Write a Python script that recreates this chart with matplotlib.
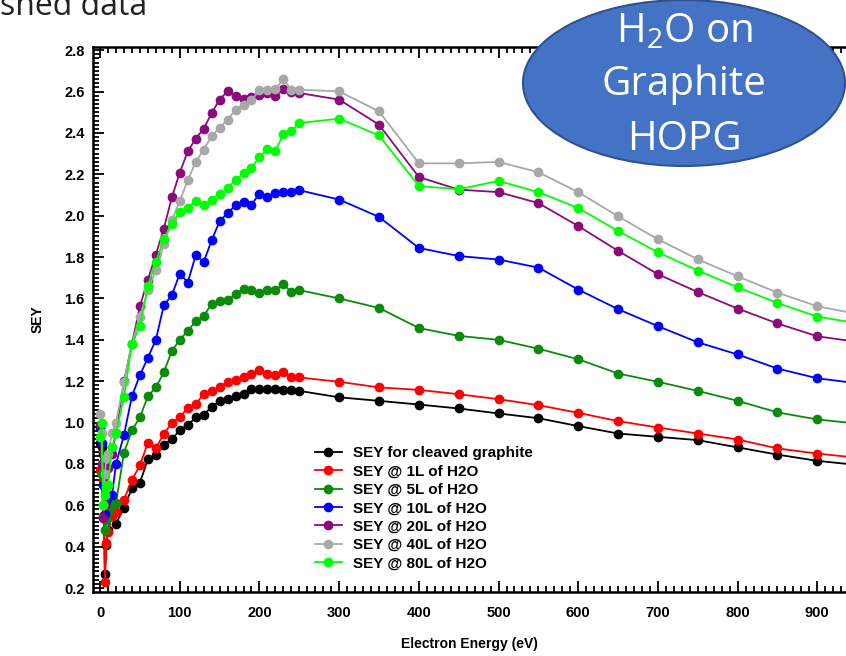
import matplotlib
matplotlib.use("Agg")
import matplotlib.pyplot as plt
from matplotlib.patches import Ellipse
from matplotlib.ticker import MultipleLocator

plt.rcParams['font.family'] = ['Liberation Sans', 'DejaVu Sans']
plt.rcParams['mathtext.fontset'] = 'custom'
plt.rcParams['mathtext.rm'] = 'Open Sans'

# electron energy (eV)
energy = [0, 2, 4, 6, 8, 10, 15, 20, 30, 40,
          50, 60, 70, 80, 90, 100, 110, 120, 130, 140, 150, 160, 170, 180, 190,
          200, 210, 220, 230, 240, 250,
          300, 350, 400, 450, 500, 550, 600, 650, 700, 750, 800, 850, 900, 950]

sey_clean = [0.90, 0.88, 0.85, 0.27, 0.41, 0.48, 0.556, 0.512, 0.588, 0.682,
             0.709, 0.823, 0.841, 0.891, 0.92, 0.963, 0.987, 1.025, 1.037, 1.076, 1.103, 1.116, 1.127, 1.14, 1.163,
             1.16, 1.16, 1.16, 1.155, 1.155, 1.153,
             1.122, 1.105, 1.087, 1.068, 1.044, 1.021, 0.983, 0.947, 0.931, 0.915, 0.88, 0.845, 0.815, 0.795]
sey_1L = [0.77, 0.75, 0.72, 0.23, 0.42, 0.47, 0.55, 0.57, 0.628, 0.722,
          0.794, 0.902, 0.875, 0.947, 0.996, 1.028, 1.068, 1.089, 1.137, 1.152, 1.173, 1.197, 1.205, 1.221, 1.237,
          1.253, 1.237, 1.229, 1.242, 1.221, 1.218,
          1.197, 1.17, 1.158, 1.137, 1.113, 1.084, 1.047, 1.007, 0.976, 0.947, 0.918, 0.875, 0.85, 0.83]
sey_5L = [0.98, 0.75, 0.55, 0.48, 0.53, 0.57, 0.60, 0.612, 0.854, 0.963,
          1.025, 1.128, 1.17, 1.243, 1.346, 1.40, 1.443, 1.49, 1.514, 1.575, 1.588, 1.591, 1.62, 1.648, 1.64,
          1.628, 1.64, 1.64, 1.669, 1.631, 1.64,
          1.60, 1.554, 1.457, 1.419, 1.40, 1.357, 1.306, 1.237, 1.197, 1.153, 1.105, 1.049, 1.015, 0.995]
sey_10L = [0.98, 0.90, 0.70, 0.56, 0.62, 0.64, 0.65, 0.80, 0.94, 1.128,
           1.229, 1.314, 1.40, 1.567, 1.615, 1.72, 1.677, 1.809, 1.776, 1.881, 1.973, 2.013, 2.05, 2.066, 2.053,
           2.107, 2.09, 2.112, 2.114, 2.114, 2.123,
           2.078, 1.994, 1.844, 1.805, 1.788, 1.749, 1.643, 1.548, 1.466, 1.388, 1.329, 1.261, 1.214, 1.19]
sey_20L = [0.99, 0.80, 0.54, 0.60, 0.70, 0.78, 0.85, 0.95, 1.20, 1.38,
           1.562, 1.691, 1.812, 1.938, 2.088, 2.208, 2.311, 2.372, 2.421, 2.496, 2.561, 2.602, 2.577, 2.566, 2.574,
           2.582, 2.593, 2.577, 2.614, 2.598, 2.593,
           2.561, 2.44, 2.187, 2.126, 2.114, 2.061, 1.95, 1.83, 1.717, 1.631, 1.551, 1.479, 1.417, 1.39]
sey_40L = [1.04, 0.95, 0.60, 0.75, 0.83, 0.85, 0.95, 1.0, 1.197, 1.38,
           1.511, 1.64, 1.736, 1.862, 1.978, 2.071, 2.171, 2.26, 2.319, 2.384, 2.426, 2.464, 2.513, 2.537, 2.558,
           2.606, 2.609, 2.614, 2.659, 2.609, 2.609,
           2.601, 2.504, 2.253, 2.253, 2.26, 2.21, 2.114, 1.997, 1.886, 1.789, 1.707, 1.628, 1.562, 1.525]
sey_80L = [0.93, 1.0, 0.60, 0.65, 0.69, 0.70, 0.88, 0.95, 1.124, 1.38,
           1.466, 1.659, 1.776, 1.886, 1.962, 2.018, 2.039, 2.071, 2.05, 2.078, 2.107, 2.136, 2.171, 2.206, 2.232,
           2.284, 2.321, 2.313, 2.393, 2.409, 2.448,
           2.469, 2.388, 2.143, 2.128, 2.168, 2.114, 2.037, 1.926, 1.823, 1.735, 1.654, 1.578, 1.512, 1.48]

labels = ["SEY for cleaved graphite", "SEY @ 1L of H2O", "SEY @ 5L of H2O",
          "SEY @ 10L of H2O", "SEY @ 20L of H2O", "SEY @ 40L of H2O", "SEY @ 80L of H2O"]
colors = ["#000000", "#ff0000", "#0a8c0a", "#0000ff", "#8b0a7c", "#a8a8a8", "#00ff00"]
series = [sey_clean, sey_1L, sey_5L, sey_10L, sey_20L, sey_40L, sey_80L]

fig = plt.figure(figsize=(8.46, 6.56), dpi=100)
ax = fig.add_axes([0.110, 0.0976, 0.890, 0.8306])

for vals, col, lab in zip(series, colors, labels):
    ax.plot(energy, vals, color=col, lw=1.3, marker='o', ms=6, label=lab)

ax.set_xlim(-8.8, 936)
ax.set_ylim(0.181, 2.815)
ax.xaxis.set_major_locator(MultipleLocator(100))
ax.xaxis.set_minor_locator(MultipleLocator(10))
ax.yaxis.set_major_locator(MultipleLocator(0.2))
ax.yaxis.set_minor_locator(MultipleLocator(0.02))
ax.tick_params(which='both', direction='in', top=True, right=False, width=1.3)
ax.tick_params(which='major', length=8, labelsize=10.5)
ax.tick_params(axis='x', which='major', pad=10)
ax.tick_params(axis='y', which='major', pad=6)
ax.tick_params(which='minor', length=4)
for lab in ax.get_xticklabels() + ax.get_yticklabels():
    lab.set_fontweight('bold')
ax.yaxis.set_major_formatter(matplotlib.ticker.FormatStrFormatter('%.1f'))
for sp in ax.spines.values():
    sp.set_linewidth(1.8)
ax.spines['right'].set_visible(False)

ax.set_xlabel("Electron Energy (eV)", fontsize=10, fontweight='bold', labelpad=12)
ax.set_ylabel("SEY", fontsize=10, fontweight='bold', labelpad=14)

ax.legend(loc='lower left', bbox_to_anchor=(0.276, 0.014), frameon=False,
          prop={'weight': 'bold', 'size': 11}, handlelength=1.8, handletextpad=0.7,
          labelspacing=0.29)

fig.text(0.0, 1 - 15 / 656, "shed data", fontsize=23, family='Open Sans',
         ha='left', va='baseline', color='#222222')

ell = Ellipse((684 / 846, 1 - 83 / 656), 322 / 846, 166 / 656,
              transform=fig.transFigure, facecolor='#4472c4', edgecolor='#2f528f', lw=1.5)
fig.add_artist(ell)
for txt, ypx in [(r"H$_2$O on", 32), ("Graphite", 85), ("HOPG", 140)]:
    fig.text(684 / 846, 1 - ypx / 656, txt, color='white', fontsize=29,
             family='Open Sans', ha='center', va='center')

fig.savefig("out.png", dpi=100)
